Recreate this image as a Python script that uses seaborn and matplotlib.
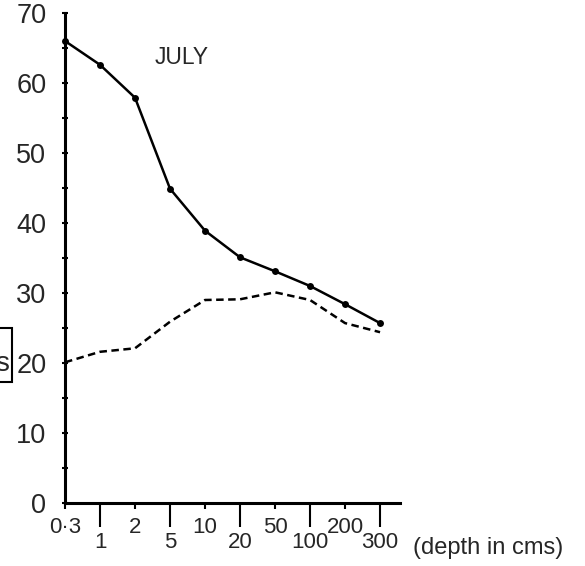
import numpy as np
import pandas as pd
import matplotlib
matplotlib.use("Agg")
import matplotlib.pyplot as plt
import seaborn as sns
from matplotlib.patches import Rectangle

# Depth classes (cm), drawn at equal spacing along the x axis
depth_labels = ["0·3", "1", "2", "5", "10", "20", "50", "100", "200", "300"]
# Solid curve with point markers
upper_curve = [66.0, 62.6, 57.9, 44.9, 38.9, 35.1, 33.1, 31.0, 28.4, 25.7]
# Dashed curve
lower_curve = [20.1, 21.6, 22.1, 25.9, 29.0, 29.1, 30.1, 29.0, 25.7, 24.4]
y_major = [0, 10, 20, 30, 40, 50, 60, 70]
y_minor = [5, 15, 25, 35, 45, 55, 65]

sns.set_theme(style="ticks")
plt.rcParams["font.family"] = ["Liberation Sans", "DejaVu Sans"]

W, H = 585, 566
fig = plt.figure(figsize=(W / 100, H / 100), dpi=100)
ax = fig.add_axes([65 / W, 63 / H, 335 / W, 490 / H])

pos = np.arange(len(depth_labels))
df = pd.DataFrame({"pos": pos, "upper": upper_curve, "lower": lower_curve})

sns.lineplot(data=df, x="pos", y="upper", ax=ax, color="black", lw=1.8,
             marker="o", markersize=5, markeredgewidth=0, clip_on=False)
sns.lineplot(data=df, x="pos", y="lower", ax=ax, color="black", lw=1.8,
             clip_on=False)
ax.lines[-1].set_dashes([3.0, 1.8])

ax.set_xlim(0, 9.57)
ax.set_ylim(0, 70)
ax.set_xlabel("")
ax.set_ylabel("")
for side in ("top", "right"):
    ax.spines[side].set_visible(False)
for side in ("left", "bottom"):
    ax.spines[side].set_linewidth(2.2)
    ax.spines[side].set_color("black")

# y axis: labelled every 10, small marks every 5
ax.set_yticks(y_major)
ax.set_yticks(y_minor, minor=True)
ax.tick_params(axis="y", which="both", direction="inout", length=5, width=1.5,
               color="black", labelsize=19.5, pad=11)

# x axis: labels alternate between a short-tick row and a long-tick row
ax.set_xticks(pos[::2], labels=depth_labels[::2])
ax.set_xticks(pos[1::2], labels=depth_labels[1::2], minor=True)
ax.tick_params(axis="x", which="major", direction="out", length=4.5, width=1.5,
               color="black", labelsize=16, pad=5.5)
ax.tick_params(axis="x", which="minor", direction="out", length=17, width=1.5,
               color="black", labelsize=16, pad=4)

fig.text(182 / W, 1 - 57 / H, "JULY", ha="center", va="center", fontsize=16.5)
fig.text(413 / W, 1 - 548 / H, "(depth in cms)", ha="left", va="center",
         fontsize=17)

# boxed axis caption running off the left edge
fig.patches.append(Rectangle((-0.03, (H - 382) / H), 12 / W + 0.03, 54 / H,
                             transform=fig.transFigure, fill=False, lw=1.5,
                             ec="black"))
fig.text(9 / W, 1 - 364 / H, "s", ha="right", va="center", fontsize=20)

fig.savefig("out.png", dpi=100)
